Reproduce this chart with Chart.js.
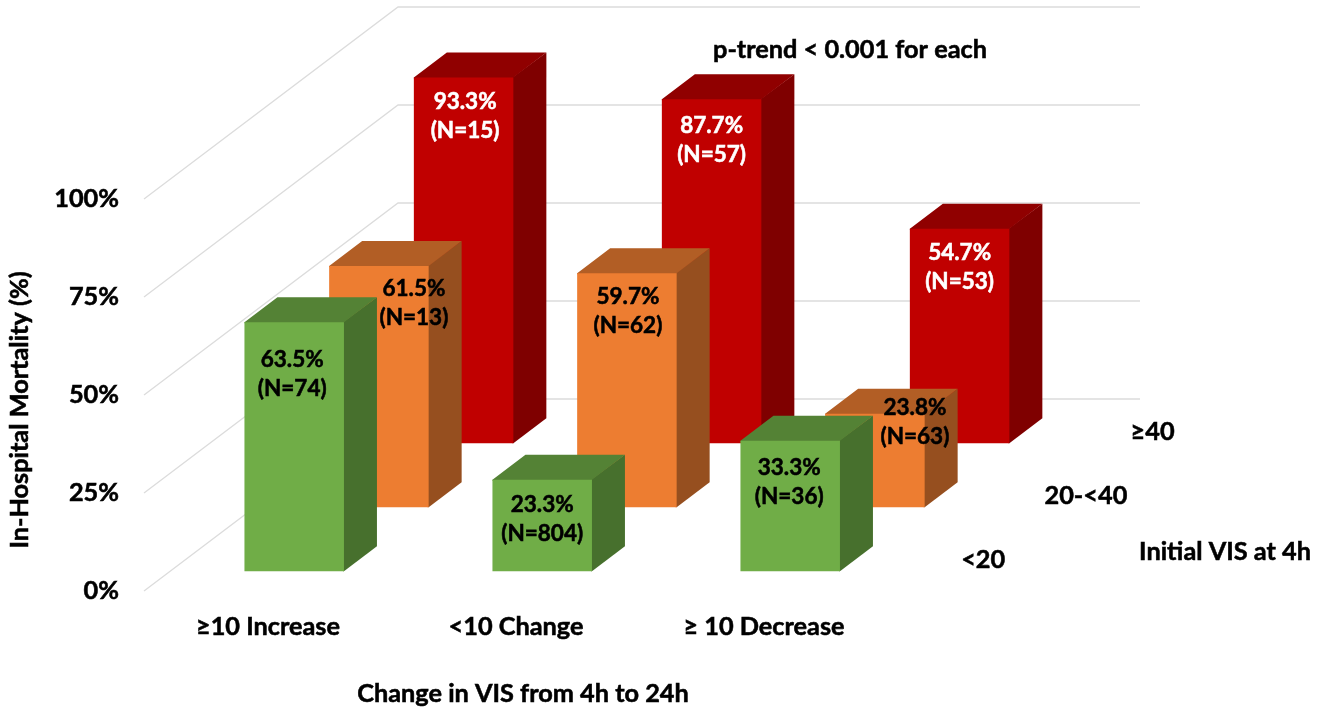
<!DOCTYPE html>
<html>
<head>
<meta charset="utf-8">
<title>In-Hospital Mortality by VIS</title>
<script src="https://cdn.jsdelivr.net/npm/chart.js@4"></script>
<style>
  html, body { margin: 0; padding: 0; background: #fff; }
  canvas { display: block; }
</style>
</head>
<body>
<canvas id="chart" width="1332" height="711"></canvas>
<script>
// Change in VIS from 4h to 24h
const categories = ['≥10 Increase', '<10 Change', '≥ 10 Decrease'];
// Initial VIS at 4h, front row first
const depthLabels = ['<20', '20-<40', '≥40'];
const mortalityLow = [63.5, 23.3, 33.3];
const mortalityMid = [61.5, 59.7, 23.8];
const mortalityHigh = [93.3, 87.7, 54.7];
const countLow = [74, 804, 36];
const countMid = [13, 62, 63];
const countHigh = [15, 57, 53];
const yTicks = [0, 25, 50, 75, 100];

const FONT = 'Lato, "Open Sans", sans-serif';
const TEXT = '#000000';
const GRID = '#dcdcdc';
const AXIS_SIZE = 25.3;
const LABEL_SIZE = 22.5;
const WEIGHT_STROKE = 0.55;

// Oblique projection: how far one full depth of the floor shifts on screen
const WALL = { dx: 254, dy: -192 };
const BAR_DEPTH = { dx: 33, dy: -25 };
const ROW_START = 26.2;    // front row's shift from the axis plane
const ROW_STEP = 84.7;
const rowShift = row => {
  const dx = ROW_START + ROW_STEP * row;
  return { dx, dy: dx * WALL.dy / WALL.dx };
};

const rowStyles = [
  { front: '#70AD47', top: '#548235', side: '#47702D', label: '#000000' },
  { front: '#ED7D31', top: '#B25E25', side: '#964F1F', label: '#000000' },
  { front: '#C00000', top: '#900000', side: '#7F0000', label: '#FFFFFF' }
];
const rowCounts = [countLow, countMid, countHigh];

// Hand placement of value labels relative to the top centre of their bar, [x, y] per row and category
const labelPlacement = [
  [[-2, 37], [0, 25], [-1, 27]],
  [[35, 23], [1, 24], [40, -6]],
  [[1.5, 24], [0, 26], [0, 24]]
];
const depthLabelNudge = [0, 18, 0];

function poly(ctx, pts, fill) {
  ctx.beginPath();
  pts.forEach((p, i) => i ? ctx.lineTo(p[0], p[1]) : ctx.moveTo(p[0], p[1]));
  ctx.closePath();
  ctx.fillStyle = fill;
  ctx.fill();
}

function text(ctx, str, x, y, size, color, rotate) {
  ctx.save();
  ctx.translate(x, y);
  if (rotate) ctx.rotate(rotate);
  ctx.font = 'bold ' + size + 'px ' + FONT;
  ctx.fillStyle = color;
  ctx.strokeStyle = color;
  ctx.lineWidth = WEIGHT_STROKE;
  ctx.textAlign = 'center';
  ctx.textBaseline = 'middle';
  ctx.strokeText(str, 0, 0);
  ctx.fillText(str, 0, 0);
  ctx.restore();
}

const perspective = {
  id: 'perspective',
  // Side wall and back wall gridlines, one per value tick
  beforeDatasetsDraw(chart) {
    const { ctx, scales: { x, y } } = chart;
    ctx.save();
    ctx.strokeStyle = GRID;
    ctx.lineWidth = 1.3;
    y.ticks.forEach(t => {
      const py = y.getPixelForValue(t.value);
      ctx.beginPath();
      ctx.moveTo(x.left, py);
      ctx.lineTo(x.left + WALL.dx, py + WALL.dy);
      ctx.lineTo(x.right + WALL.dx - 2, py + WALL.dy);
      ctx.stroke();
    });
    ctx.restore();
  },
  // Shift each row back and add its top and side faces before the front face is drawn;
  // both faces run slightly under the front face so no seam shows at the shared edges
  beforeDatasetDraw(chart, args) {
    const { ctx } = chart;
    const row = args.index;
    const shift = rowShift(row);
    const style = rowStyles[row];
    ctx.save();
    ctx.translate(shift.dx, shift.dy);
    args.meta.data.forEach(bar => {
      const l = bar.x - bar.width / 2, r = bar.x + bar.width / 2;
      const t = bar.y, b = bar.base;
      const d = BAR_DEPTH;
      poly(ctx, [[r - 1, t], [r - 1, b], [r, b], [r + d.dx, b + d.dy], [r + d.dx, t + d.dy]], style.side);
      poly(ctx, [[l, t + 1], [l, t], [l + d.dx, t + d.dy], [r + d.dx, t + d.dy], [r, t], [r - 1, t + 1]], style.top);
    });
  },
  afterDatasetDraw(chart) {
    chart.ctx.restore();
  },
  // Value labels, depth axis labels and free-standing titles
  afterDatasetsDraw(chart) {
    const { ctx } = chart;
    chart.data.datasets.forEach((ds, row) => {
      const shift = rowShift(row);
      chart.getDatasetMeta(row).data.forEach((bar, i) => {
        const [nx, ny] = labelPlacement[row][i];
        const cx = bar.x + shift.dx + nx;
        const top = bar.y + shift.dy + ny;
        const color = rowStyles[row].label;
        text(ctx, ds.data[i].toFixed(1) + '%', cx, top, LABEL_SIZE, color);
        text(ctx, '(N=' + rowCounts[row][i] + ')', cx, top + 29, LABEL_SIZE, color);
      });
    });
    const floor = chart.scales.y.getPixelForValue(0);
    depthLabels.forEach((label, row) => {
      const shift = rowShift(row);
      text(ctx, label, chart.scales.x.right + shift.dx + 69 + depthLabelNudge[row], floor + shift.dy - 11, AXIS_SIZE, TEXT);
    });
    text(ctx, 'p-trend < 0.001 for each', 850, 50, AXIS_SIZE, TEXT);
    text(ctx, 'Initial VIS at 4h', 1225, 552, AXIS_SIZE, TEXT);
    text(ctx, 'Change in VIS from 4h to 24h', 523, 694, AXIS_SIZE, TEXT);
    text(ctx, 'In-Hospital Mortality (%)', 20, 410, AXIS_SIZE, TEXT, -Math.PI / 2);
  }
};

new Chart(document.getElementById('chart'), {
  type: 'bar',
  plugins: [perspective],
  data: {
    labels: categories,
    datasets: [mortalityLow, mortalityMid, mortalityHigh].map((data, row) => ({
      label: depthLabels[row],
      data,
      backgroundColor: rowStyles[row].front,
      borderWidth: 0,
      grouped: false,
      clip: false,
      barPercentage: 1,
      categoryPercentage: 99.5 / 248
    }))
  },
  options: {
    responsive: false,
    animation: false,
    events: [],
    layout: { padding: { top: 199, right: 444, left: 0, bottom: 0 } },
    plugins: { legend: { display: false }, tooltip: { enabled: false } },
    scales: {
      x: {
        grid: { display: false, drawTicks: false },
        border: { display: false },
        afterFit: s => { s.height = 120; },
        ticks: {
          color: TEXT,
          textStrokeColor: TEXT,
          textStrokeWidth: WEIGHT_STROKE,
          padding: 21,
          maxRotation: 0,
          font: { family: FONT, size: AXIS_SIZE, weight: 'bold' }
        }
      },
      y: {
        min: 0,
        max: 100,
        grid: { display: false, drawTicks: false },
        border: { display: false },
        afterFit: s => { s.width = 144; },
        afterBuildTicks: s => { s.ticks = yTicks.map(value => ({ value })); },
        ticks: {
          color: TEXT,
          textStrokeColor: TEXT,
          textStrokeWidth: WEIGHT_STROKE,
          padding: 25,
          callback: v => v + '%',
          font: { family: FONT, size: AXIS_SIZE, weight: 'bold' }
        }
      }
    }
  }
});
</script>
</body>
</html>
